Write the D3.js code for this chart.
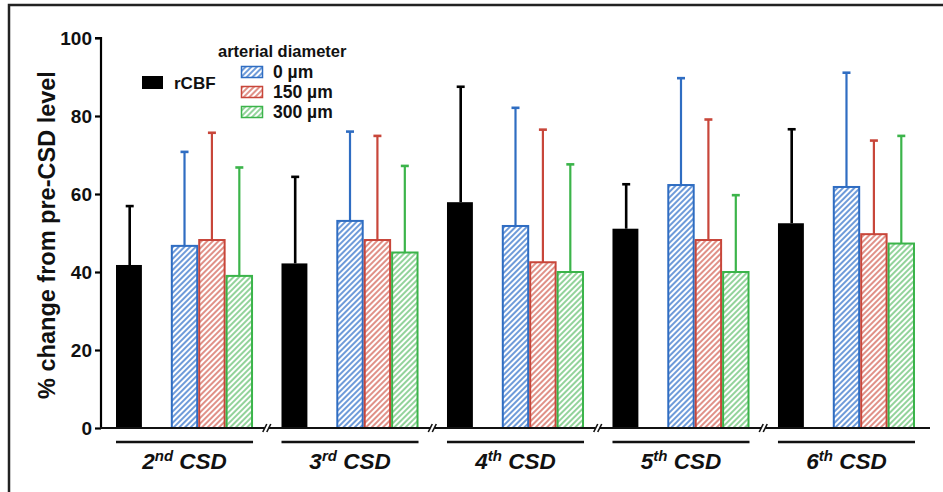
<!DOCTYPE html>
<html>
<head>
<meta charset="utf-8">
<script src="https://cdn.jsdelivr.net/npm/d3@7/dist/d3.min.js"></script>
<style>
  body { margin: 0; background: #fff; }
  svg { display: block; font-family: "Liberation Sans", Arial, sans-serif; }
</style>
</head>
<body>
<div id="chart"></div>
<script>
// ---- data ----
const groupNums = ["2", "3", "4", "5", "6"];
const groupSuffix = ["nd", "rd", "th", "th", "th"];
const seriesNames = ["rCBF", "0 µm", "150 µm", "300 µm"];

const rcbfMean = [41.8, 42.2, 57.9, 51.1, 52.5];
const rcbfSD   = [15.1, 22.2, 29.6, 11.4, 24.1];
const d0Mean   = [46.7, 53.1, 51.8, 62.3, 61.8];
const d0SD     = [24.1, 22.9, 30.3, 27.4, 29.3];
const d150Mean = [48.2, 48.2, 42.5, 48.2, 49.7];
const d150SD   = [27.5, 26.7, 34.0, 30.9, 24.0];
const d300Mean = [39.0, 45.0, 40.0, 40.0, 47.3];
const d300SD   = [27.8, 22.2, 27.6, 19.7, 27.6];

const yTicks = [0, 20, 40, 60, 80, 100];

// ---- settings ----
const width = 943, height = 492;
const colors = { "rCBF": "#000", "0 µm": "#2f6dc2", "150 µm": "#c8463a", "300 µm": "#3bb44a" };
const hatchColors = { "0 µm": "#4a82d0", "150 µm": "#d9756a", "300 µm": "#78c882" };

const svg = d3.select("#chart").append("svg")
    .attr("width", width)
    .attr("height", height);

// hatch patterns
const defs = svg.append("defs");
seriesNames.slice(1).forEach((s, i) => {
    const p = defs.append("pattern")
        .attr("id", "hatch" + i)
        .attr("patternUnits", "userSpaceOnUse")
        .attr("width", 4)
        .attr("height", 4)
        .attr("patternTransform", "rotate(45)");
    p.append("rect").attr("width", 4).attr("height", 4).attr("fill", "#fff");
    p.append("line")
        .attr("x1", 1).attr("y1", 0).attr("x2", 1).attr("y2", 4)
        .attr("stroke", hatchColors[s])
        .attr("stroke-width", 1.6);
});

// frame lines (top and left)
svg.append("path")
    .attr("d", "M9,492V5H943")
    .attr("fill", "none")
    .attr("stroke", "#222")
    .attr("stroke-width", 2.5);

// ---- scales ----
const y = d3.scaleLinear([0, 100], [428, 38]);
const x = d3.scaleBand(groupNums, [116, 915]).paddingInner(0.172).paddingOuter(0);
const xi = d3.scaleBand(["rCBF", "gap", ...seriesNames.slice(1)], [0, x.bandwidth()]);

// ---- y axis ----
const yAxis = svg.append("g")
    .attr("transform", "translate(101,0)")
    .call(d3.axisLeft(y).tickValues(yTicks).tickSize(6).tickPadding(3));
yAxis.select(".domain").attr("stroke-width", 2.2).attr("d", `M-6,${y(100)}H0V${y(0)}`);
yAxis.selectAll(".tick line").attr("stroke-width", 2.2);
yAxis.selectAll(".tick text")
    .attr("font-size", 19)
    .attr("font-weight", "bold")
    .attr("font-family", "Liberation Sans, Arial, sans-serif")
    .attr("fill", "#111");

svg.append("text")
    .attr("transform", `translate(55,${(y(0) + y(100)) / 2 + 2}) rotate(-90)`)
    .attr("text-anchor", "middle")
    .attr("font-size", 23.5)
    .attr("font-weight", "bold")
    .attr("fill", "#111")
    .text("% change from pre-CSD level");

// ---- bars ----
const rows = [];
groupNums.forEach((g, gi) => {
    rows.push({ g, s: "rCBF", mean: rcbfMean[gi], sd: rcbfSD[gi] });
    rows.push({ g, s: "0 µm", mean: d0Mean[gi], sd: d0SD[gi] });
    rows.push({ g, s: "150 µm", mean: d150Mean[gi], sd: d150SD[gi] });
    rows.push({ g, s: "300 µm", mean: d300Mean[gi], sd: d300SD[gi] });
});

const barG = svg.append("g");

// error bars first, bars drawn over
const err = barG.selectAll("g.err").data(rows).join("g").attr("class", "err")
    .attr("stroke", d => colors[d.s])
    .attr("stroke-width", d => d.s === "rCBF" ? 2.6 : 2.2);
err.append("line")
    .attr("x1", d => x(d.g) + xi(d.s) + xi.bandwidth() / 2)
    .attr("x2", d => x(d.g) + xi(d.s) + xi.bandwidth() / 2)
    .attr("y1", d => y(d.mean))
    .attr("y2", d => y(d.mean + d.sd));
err.append("line")
    .attr("x1", d => x(d.g) + xi(d.s) + xi.bandwidth() / 2 - 4)
    .attr("x2", d => x(d.g) + xi(d.s) + xi.bandwidth() / 2 + 4)
    .attr("y1", d => y(d.mean + d.sd))
    .attr("y2", d => y(d.mean + d.sd))
    .attr("stroke-width", 2.6);

barG.selectAll("rect.bar").data(rows).join("rect").attr("class", "bar")
    .attr("x", d => x(d.g) + xi(d.s) + (d.s === "rCBF" ? 0 : 1))
    .attr("width", d => d.s === "rCBF" ? xi.bandwidth() - 1.5 : xi.bandwidth() - 2)
    .attr("y", d => y(d.mean))
    .attr("height", d => y(0) - y(d.mean))
    .attr("fill", d => d.s === "rCBF" ? "#000" : `url(#hatch${seriesNames.indexOf(d.s) - 1})`)
    .attr("stroke", d => d.s === "rCBF" ? "none" : colors[d.s])
    .attr("stroke-width", 2);

// ---- baseline with breaks ----
svg.append("line")
    .attr("x1", 100).attr("x2", 930)
    .attr("y1", y(0)).attr("y2", y(0))
    .attr("stroke", "#111").attr("stroke-width", 2.2);

const breaks = groupNums.slice(0, -1).map(g => x(g) + x.bandwidth() + (x.step() - x.bandwidth()) / 2);
const brk = svg.append("g").selectAll("g").data(breaks).join("g")
    .attr("transform", d => `translate(${d},${y(0)})`);
brk.append("rect").attr("x", -2.5).attr("y", -2).attr("width", 4).attr("height", 4).attr("fill", "#fff");
[-2.5, 1.5].forEach(dx => {
    brk.append("line")
        .attr("x1", dx - 2).attr("y1", 4)
        .attr("x2", dx + 2).attr("y2", -4)
        .attr("stroke", "#111").attr("stroke-width", 1.6);
});

// ---- group underlines and labels ----
const grp = svg.append("g").selectAll("g").data(groupNums).join("g");
grp.append("line")
    .attr("x1", d => x(d)).attr("x2", d => x(d) + x.bandwidth())
    .attr("y1", 442).attr("y2", 442)
    .attr("stroke", "#111").attr("stroke-width", 2.4);
const lbl = grp.append("text")
    .attr("x", d => x(d) + x.bandwidth() / 2)
    .attr("y", 469)
    .attr("text-anchor", "middle")
    .attr("font-size", 22.5)
    .attr("font-weight", "bold")
    .attr("font-style", "italic")
    .attr("fill", "#111");
lbl.append("tspan").text(d => d);
lbl.append("tspan").attr("dy", -8).attr("font-size", 15).text((d, i) => groupSuffix[i]);
lbl.append("tspan").attr("dy", 8).text(" CSD");

// ---- legend ----
const leg = svg.append("g").attr("font-weight", "bold").attr("fill", "#111");
leg.append("rect").attr("x", 142).attr("y", 76).attr("width", 21).attr("height", 13).attr("fill", "#000");
leg.append("text").attr("x", 174).attr("y", 89).attr("font-size", 17).text(seriesNames[0]);
leg.append("text").attr("x", 218).attr("y", 57).attr("font-size", 16.5).text("arterial diameter");
seriesNames.slice(1).forEach((s, i) => {
    const yy = 66 + i * 20;
    leg.append("rect")
        .attr("x", 241.5).attr("y", yy + 0.5)
        .attr("width", 21).attr("height", 11)
        .attr("fill", `url(#hatch${i})`)
        .attr("stroke", colors[s]).attr("stroke-width", 1.5);
    leg.append("text").attr("x", 273).attr("y", yy + 12).attr("font-size", 17.5).text(s);
});
</script>
</body>
</html>
